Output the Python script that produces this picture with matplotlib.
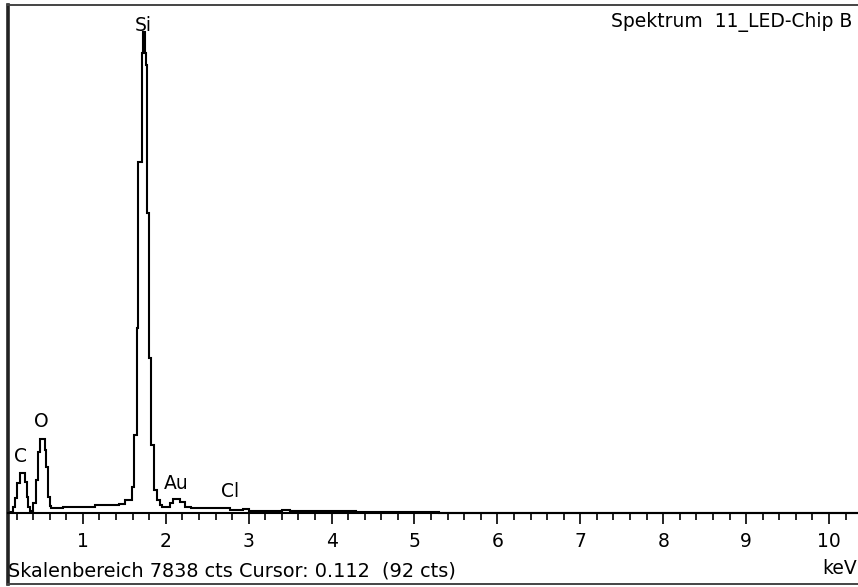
import numpy as np
import matplotlib
matplotlib.use("Agg")
import matplotlib.pyplot as plt
from matplotlib.lines import Line2D

plt.rcParams['font.family'] = ['DejaVu Sans']

# EDS spectrum: bin edges (keV) and counts per bin
edges = [0.097, 0.16, 0.18, 0.21, 0.24, 0.30, 0.32, 0.34, 0.36, 0.40,
         0.44, 0.46, 0.48, 0.54, 0.56, 0.58, 0.60, 0.62, 0.76, 1.15,
         1.43, 1.51, 1.59, 1.62, 1.65, 1.67, 1.709, 1.729, 1.749, 1.757,
         1.777, 1.801, 1.821, 1.861, 1.89, 1.93, 1.95, 2.05, 2.09, 2.17,
         2.23, 2.31, 2.77, 2.93, 3.0, 3.4, 3.5, 4.3, 4.8, 5.2,
         5.3, 6.0, 10.4]
counts = [20, 95, 230, 460, 617, 480, 250, 95, 35,
          155, 510, 940, 1140, 970, 710, 250, 110, 75, 95,
          120, 140, 200, 400, 1200, 2850, 5420, 7100, 7420, 7100,
          6910, 4630, 2390, 1050, 355, 200, 130, 100, 150, 210,
          170, 90, 70, 40, 55, 30, 45, 25, 18, 22,
          10, 5, 0]

peak_names = ["C", "O", "Si", "Au", "Cl"]
peak_label_kev = [0.253, 0.495, 1.725, 2.123, 2.774]
peak_label_cts = [869, 1409, 7514, 458, 329]

full_scale = 7838
major_ticks = [1, 2, 3, 4, 5, 6, 7, 8, 9, 10]

title = "Spektrum  11_LED-Chip B"
status = "Skalenbereich 7838 cts Cursor: 0.112  (92 cts)"
unit = "keV"

fs = 13.5
W, H = 858, 587
fig = plt.figure(figsize=(W/100, H/100), dpi=100)
# axes box: left frame at x=8px, top at 5px, outer frame bottom at 584px
ax = fig.add_axes([8/W, 3/H, 1 - 8/W, (584-5)/H])
px_per_kev = 82.9
cts_per_px = full_scale / (513 - 5)
ax.set_xlim(8/px_per_kev, W/px_per_kev)
ax.set_ylim(-(584-513)*cts_per_px, full_scale)

ax.stairs(counts, edges, color="black", lw=1.5, baseline=None)

ax.spines['right'].set_visible(False)
ax.spines['left'].set_linewidth(2.6)
ax.spines['left'].set_color("#222222")
ax.spines['top'].set_linewidth(1.4)
ax.spines['top'].set_color("#444444")
ax.spines['bottom'].set_position(('data', 0))
ax.spines['bottom'].set_linewidth(1.5)
ax.yaxis.set_visible(False)

ax.set_xticks(major_ticks)
ax.set_xticklabels([str(t) for t in major_ticks])
ax.set_xticks(np.arange(0.2, 10.4, 0.2), minor=True)
ax.tick_params(axis='x', which='major', direction='out', length=8, width=1.2,
               pad=6, labelsize=fs)
ax.tick_params(axis='x', which='minor', direction='out', length=5, width=1.2)

# outer frame bottom line
fig.add_artist(Line2D([8/W, 1], [3/H, 3/H], color="#444444", lw=1.4))

for name, xk, yc in zip(peak_names, peak_label_kev, peak_label_cts):
    ax.text(xk, yc, name, ha="center", va="center", fontsize=fs)

fig.text(852/W, 1 - 21.5/H, title, ha="right", va="center", fontsize=fs)
fig.text(8/W, 1 - 571/H, status, ha="left", va="center", fontsize=13.9)
fig.text(857/W, 1 - 568/H, unit, ha="right", va="center", fontsize=fs)

fig.savefig("out.png", dpi=100)
